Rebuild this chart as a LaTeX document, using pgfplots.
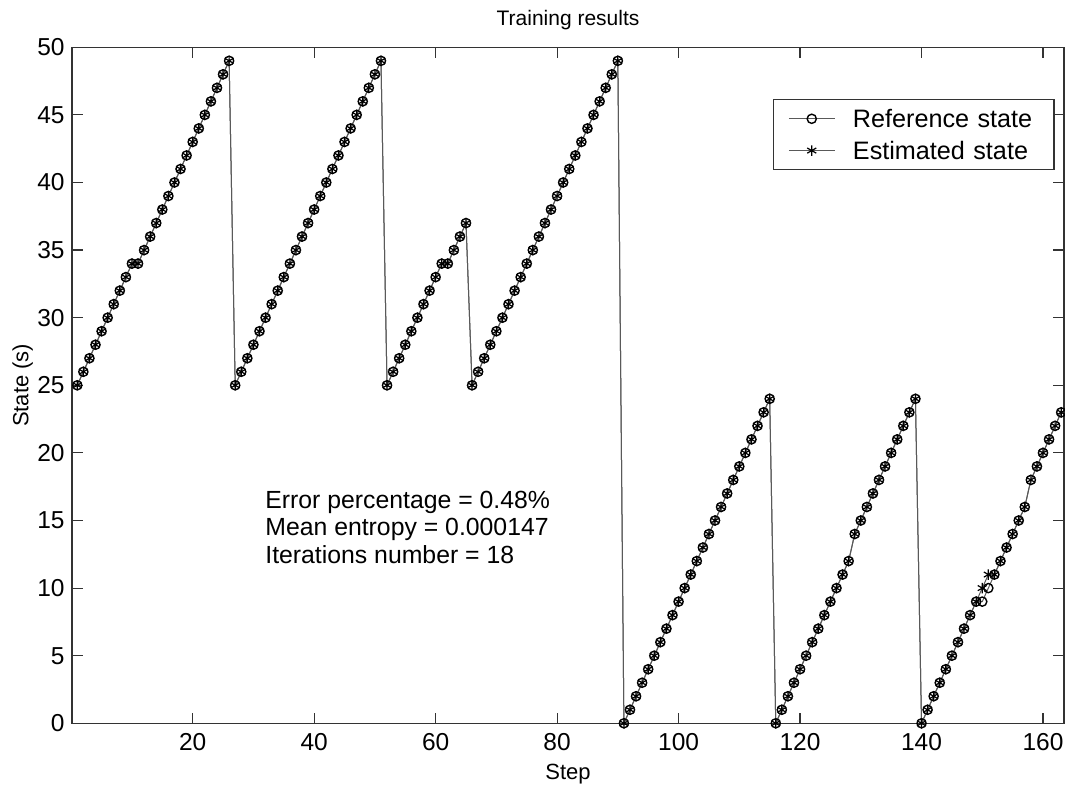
\documentclass[border=0pt]{standalone}
\usepackage{pgfplots}
\pgfplotsset{compat=1.18}
\usepackage{fontspec}
\setmainfont{Liberation Sans}
\begin{document}
\begin{tikzpicture}
\begin{axis}[
  name=ax,
  scale only axis, width=496pt, height=338pt,
  xmin=0.13, xmax=163.46, ymin=0, ymax=50,
  xtick={20,40,...,160}, ytick={0,5,...,50},
  tick align=inside, major tick length=5.3pt,
  axis line style={black!80, line width=0.6pt},
  every tick/.style={black!80, line width=0.6pt},
  tick label style={font=\fontsize{12.25}{14}\selectfont, inner sep=0pt},
  /pgf/number format/assume math mode=true,
  xticklabel style={yshift=-5pt},
  yticklabel style={xshift=-3.5pt},
  title={Training results},
  every axis title shift=0pt,
  title style={at={(axis description cs:0.5,1)}, anchor=base, yshift=11pt, font=\fontsize{10.5}{12}\selectfont},
  xlabel={Step},
  xlabel style={at={(axis description cs:0.5,0)}, anchor=base, yshift=-28pt, font=\fontsize{11}{13}\selectfont},
  ylabel={State (s)},
  ylabel style={at={(axis description cs:-0.04385,0.5)}, anchor=base, font=\fontsize{11}{13}\selectfont},
  clip=false,
  legend cell align=left,
  legend image code/.code={\draw[mark repeat=2,mark phase=2] plot coordinates {(0pt,0pt) (11.5pt,0pt) (23pt,0pt)};},
  legend style={at={(0.7063,0.9231)}, anchor=north west, draw=black!80, line width=0.6pt,
    inner xsep=7.5pt, inner ysep=4.95pt, row sep=6.9pt, column sep=8.85pt,
    font=\fontsize{12.6}{14}\selectfont,
    nodes={inner sep=0pt, text height=9pt, text depth=0pt, text width=93pt, anchor=west}},
]
\addplot[color=black!65, line width=0.5pt, mark=o, mark size=2.3pt, mark options={black, solid, line width=0.7pt}] coordinates {
(1,25)(2,26)(3,27)(4,28)(5,29)(6,30)(7,31)(8,32)(9,33)(10,34)(11,34)(12,35)(13,36)(14,37)(15,38)(16,39)(17,40)(18,41)(19,42)(20,43)(21,44)(22,45)(23,46)(24,47)(25,48)(26,49)
(27,25)(28,26)(29,27)(30,28)(31,29)(32,30)(33,31)(34,32)(35,33)(36,34)(37,35)(38,36)(39,37)(40,38)(41,39)(42,40)(43,41)(44,42)(45,43)(46,44)(47,45)(48,46)(49,47)(50,48)(51,49)
(52,25)(53,26)(54,27)(55,28)(56,29)(57,30)(58,31)(59,32)(60,33)(61,34)(62,34)(63,35)(64,36)(65,37)
(66,25)(67,26)(68,27)(69,28)(70,29)(71,30)(72,31)(73,32)(74,33)(75,34)(76,35)(77,36)(78,37)(79,38)(80,39)(81,40)(82,41)(83,42)(84,43)(85,44)(86,45)(87,46)(88,47)(89,48)(90,49)
(91,0)(92,1)(93,2)(94,3)(95,4)(96,5)(97,6)(98,7)(99,8)(100,9)(101,10)(102,11)(103,12)(104,13)(105,14)(106,15)(107,16)(108,17)(109,18)(110,19)(111,20)(112,21)(113,22)(114,23)(115,24)
(116,0)(117,1)(118,2)(119,3)(120,4)(121,5)(122,6)(123,7)(124,8)(125,9)(126,10)(127,11)(128,12)(129,14)(130,15)(131,16)(132,17)(133,18)(134,19)(135,20)(136,21)(137,22)(138,23)(139,24)
(140,0)(141,1)(142,2)(143,3)(144,4)(145,5)(146,6)(147,7)(148,8)(149,9)(150,9)(151,10)(152,11)(153,12)(154,13)(155,14)(156,15)(157,16)(158,18)(159,19)(160,20)(161,21)(162,22)(163,23)
};
\addlegendentry{Reference state}
\addplot[color=black!65, line width=0.5pt, mark=asterisk, mark size=2.6pt, mark options={black, solid, line width=0.6pt}] coordinates {
(1,25)(2,26)(3,27)(4,28)(5,29)(6,30)(7,31)(8,32)(9,33)(10,34)(11,34)(12,35)(13,36)(14,37)(15,38)(16,39)(17,40)(18,41)(19,42)(20,43)(21,44)(22,45)(23,46)(24,47)(25,48)(26,49)
(27,25)(28,26)(29,27)(30,28)(31,29)(32,30)(33,31)(34,32)(35,33)(36,34)(37,35)(38,36)(39,37)(40,38)(41,39)(42,40)(43,41)(44,42)(45,43)(46,44)(47,45)(48,46)(49,47)(50,48)(51,49)
(52,25)(53,26)(54,27)(55,28)(56,29)(57,30)(58,31)(59,32)(60,33)(61,34)(62,34)(63,35)(64,36)(65,37)
(66,25)(67,26)(68,27)(69,28)(70,29)(71,30)(72,31)(73,32)(74,33)(75,34)(76,35)(77,36)(78,37)(79,38)(80,39)(81,40)(82,41)(83,42)(84,43)(85,44)(86,45)(87,46)(88,47)(89,48)(90,49)
(91,0)(92,1)(93,2)(94,3)(95,4)(96,5)(97,6)(98,7)(99,8)(100,9)(101,10)(102,11)(103,12)(104,13)(105,14)(106,15)(107,16)(108,17)(109,18)(110,19)(111,20)(112,21)(113,22)(114,23)(115,24)
(116,0)(117,1)(118,2)(119,3)(120,4)(121,5)(122,6)(123,7)(124,8)(125,9)(126,10)(127,11)(128,12)(129,14)(130,15)(131,16)(132,17)(133,18)(134,19)(135,20)(136,21)(137,22)(138,23)(139,24)
(140,0)(141,1)(142,2)(143,3)(144,4)(145,5)(146,6)(147,7)(148,8)(149,9)(150,10)(151,11)(152,11)(153,12)(154,13)(155,14)(156,15)(157,16)(158,18)(159,19)(160,20)(161,21)(162,22)(163,23)
};
\addlegendentry{Estimated state}
\node[anchor=north west, align=left, inner sep=0pt, font=\fontsize{12.4}{13.75}\selectfont] at (axis cs:31.9,17.2)
  {Error percentage = 0.48\%\\Mean entropy = 0.000147\\Iterations number = 18};
\end{axis}
\pgfresetboundingbox
\path[use as bounding box] ([shift={(-36pt,-31.85pt)}]ax.south west) rectangle ([shift={(0.5pt,23.65pt)}]ax.north east);
\end{tikzpicture}
\end{document}
